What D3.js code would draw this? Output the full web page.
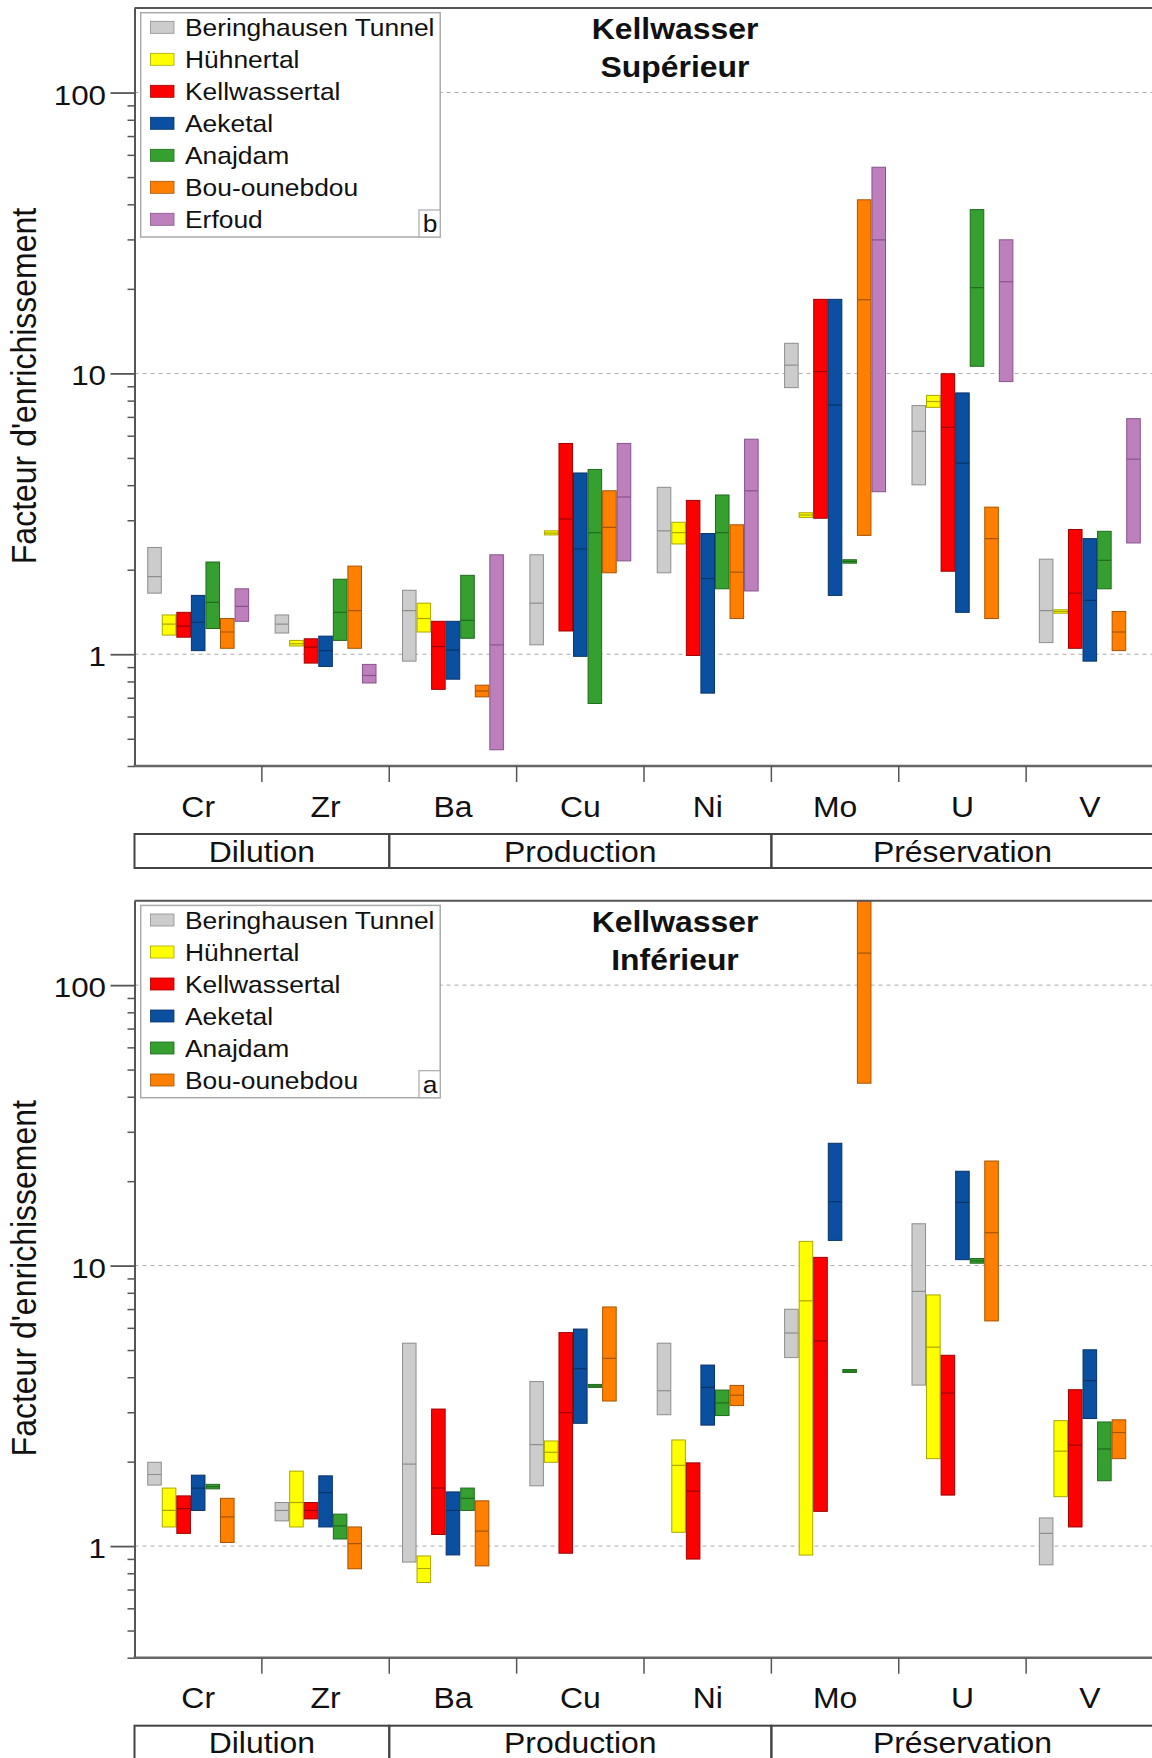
<!DOCTYPE html>
<html><head><meta charset="utf-8">
<script src="https://cdn.jsdelivr.net/npm/d3@7"></script>
<style>html,body{margin:0;padding:0;background:#fff;} svg{display:block;}</style>
</head><body>
<svg id="c" width="1152" height="1758"></svg>
<script>
// ---------- DATA ----------
const categories = ["Cr","Zr","Ba","Cu","Ni","Mo","U","V"];
const groupNames = ["Dilution","Production","Préservation"];
const groupFirst = ["Cr","Ba","Mo"];
const groupLast  = ["Zr","Ni","V"];
const seriesNames = ["Beringhausen Tunnel","Hühnertal","Kellwassertal","Aeketal","Anajdam","Bou-ounebdou","Erfoud"];
const majorTicks = [1,10,100];
const majorLabels = ["1","10","100"];
const minorTicks = [0.4,0.5,0.6,0.7,0.8,0.9,2,3,4,5,6,7,8,9,20,30,40,50,60,70,80,90];

// Kellwasser Supérieur : [min, median, max] per category
const supBeringhausen = [[1.65,1.89,2.40],[1.19,1.28,1.38],[0.945,1.43,1.69],[1.08,1.52,2.26],[1.95,2.75,3.93],[8.9,10.7,12.8],[4.01,6.22,7.68],[1.10,1.43,2.18]];
const supHuhnertal    = [[1.17,1.28,1.38],[1.07,1.09,1.12],[1.20,1.34,1.52],[2.66,2.70,2.75],[2.47,2.71,2.95],[3.07,3.13,3.19],[7.57,7.94,8.35],[1.40,1.42,1.44]];
const supKellwasser   = [[1.15,1.26,1.41],[0.93,1.06,1.135],[0.75,1.065,1.31],[1.21,3.03,5.63],[0.99,null,3.53],[3.05,10.15,18.35],[1.975,6.43,9.97],[1.05,1.65,2.78]];
const supAeketal      = [[1.03,1.30,1.62],[0.905,1.03,1.16],[0.815,1.035,1.31],[0.983,2.37,4.42],[0.727,1.86,2.69],[1.62,7.72,18.35],[1.41,4.79,8.52],[0.945,1.555,2.58]];
const supAnajdam      = [[1.235,1.53,2.13],[1.12,1.41,1.85],[1.14,1.32,1.91],[0.668,2.71,4.55],[1.71,2.71,3.69],[2.11,2.14,2.17],[10.6,20.2,38.3],[1.71,2.16,2.74]];
const supBou          = [[1.05,1.20,1.34],[1.05,1.43,2.06],[0.705,0.74,0.776],[1.95,2.83,3.82],[1.34,1.96,2.89],[2.65,18.3,41.5],[1.34,2.58,3.34],[1.03,1.20,1.42]];
const supErfoud       = [[1.31,1.48,1.71],[0.79,0.84,0.92],[0.457,1.08,2.26],[2.15,3.63,5.63],[1.68,3.82,5.83],[3.79,29.9,54.2],[9.35,21.2,29.9],[2.49,4.95,6.9]];

// Kellwasser Inférieur
const infBeringhausen = [[1.65,1.80,1.99],[1.23,1.34,1.43],[0.877,1.96,5.29],[1.64,2.30,3.86],[2.94,3.58,5.29],[4.70,5.75,6.99],[3.75,8.09,14.1],[0.857,1.11,1.26]];
const infHuhnertal    = [[1.17,1.34,1.61],[1.17,1.43,1.85],[0.742,0.832,0.922],[1.99,2.16,2.37],[1.12,1.94,2.39],[0.929,7.49,12.2],[2.05,5.12,7.86],[1.50,2.18,2.80]];
const infKellwasser   = [[1.11,1.36,1.51],[1.25,1.34,1.43],[1.10,1.61,3.08],[0.943,2.99,5.77],[0.899,1.57,1.98],[1.33,5.39,10.7],[1.52,3.51,4.79],[1.17,2.29,3.61]];
const infAeketal      = [[1.34,1.61,1.79],[1.17,1.55,1.78],[0.93,1.34,1.56],[2.74,4.29,5.94],[2.70,3.68,4.42],[12.3,16.9,27.3],[10.5,16.8,21.7],[2.85,3.89,5.01]];
const infAnajdam      = [[1.60,1.63,1.66],[1.06,1.18,1.30],[1.34,1.48,1.61],[3.68,3.72,3.77],[2.92,3.24,3.60],[4.16,4.21,4.26],[10.2,10.4,10.6],[1.71,2.22,2.77]];
const infBou          = [[1.03,1.27,1.48],[0.83,1.02,1.17],[0.85,1.13,1.45],[3.29,4.67,7.12],[3.17,3.45,3.74],[44.7,130,200],[6.35,13.1,23.6],[2.05,2.54,2.82]];

// ---------- STYLE ----------
const seriesFill   = ["#cccccc","#ffff00","#ff0000","#0b50a0","#35a02f","#ff8000","#bd80bd"];
const seriesStroke = ["#8e8e8e","#a8a800","#a00000","#06336a","#1f6a1c","#a85300","#85558a"];
const FONT = "'Liberation Sans', Arial, Helvetica, sans-serif";
const SX = 1.1; // horizontal stretch of the original typography

const svg = d3.select("#c");
svg.append("rect").attr("width",1152).attr("height",1758).attr("fill","#ffffff");
const defs = svg.append("defs");

const left = 134.5, right = 1153.5;
const x = d3.scaleBand().domain(categories).range([left, right]).padding(0);
const xs = d3.scaleBand().domain(seriesNames).range([0.1 * x.bandwidth(), 0.9 * x.bandwidth()]).padding(0);

function stretchedText(parent, tx, ty, txt, size, anchor, weight) {
  return parent.append("text")
    .attr("transform", `translate(${tx},${ty}) scale(${SX},1)`)
    .attr("text-anchor", anchor || "middle")
    .attr("font-family", FONT)
    .attr("font-size", size)
    .attr("font-weight", weight || "normal")
    .attr("fill", "#111")
    .text(txt);
}

function panel(idx, top, bottom, data, nSeries, letter, titleLines) {
  const g = svg.append("g");
  const y = d3.scaleLog().domain([0.4, 200]).range([bottom, top]).clamp(true);

  const clipId = "clip" + idx;
  defs.append("clipPath").attr("id", clipId).append("rect")
    .attr("x", left).attr("y", top).attr("width", right - left).attr("height", bottom - top);

  // grid lines
  g.append("g").selectAll("line").data(majorTicks).join("line")
    .attr("x1", left).attr("x2", right)
    .attr("y1", d => y(d)).attr("y2", d => y(d))
    .attr("stroke", "#aaaaaa").attr("stroke-width", 1).attr("stroke-dasharray", "4,4");

  // bars
  const barsG = g.append("g").attr("clip-path", `url(#${clipId})`);
  data.forEach((arr, si) => {
    const key = seriesNames[si];
    const items = arr.map((v, ci) => ({v, cat: categories[ci]})).filter(d => d.v);
    const sg = barsG.append("g");
    sg.selectAll("rect").data(items).join("rect")
      .attr("x", d => x(d.cat) + xs(key) + 0.5)
      .attr("width", xs.bandwidth() - 1)
      .attr("y", d => y(d.v[2]))
      .attr("height", d => Math.max(1.5, y(d.v[0]) - y(d.v[2])))
      .attr("fill", seriesFill[si])
      .attr("stroke", seriesStroke[si]).attr("stroke-width", 1);
    sg.selectAll("line").data(items.filter(d => d.v[1] != null)).join("line")
      .attr("x1", d => x(d.cat) + xs(key) + 0.5)
      .attr("x2", d => x(d.cat) + xs(key) + xs.bandwidth() - 0.5)
      .attr("y1", d => y(d.v[1])).attr("y2", d => y(d.v[1]))
      .attr("stroke", seriesStroke[si]).attr("stroke-width", 1.2);
  });

  // y axis (minor + major)
  const minorAxis = d3.axisLeft(y).tickValues(minorTicks).tickSize(7).tickFormat("");
  const gm = g.append("g").attr("transform", `translate(${left},0)`).call(minorAxis);
  gm.select(".domain").remove();
  gm.selectAll(".tick line").attr("stroke", "#555").attr("stroke-width", 1.5);
  const majorAxis = d3.axisLeft(y).tickValues(majorTicks).tickSize(24).tickFormat("").tickSizeOuter(0);
  const gM = g.append("g").attr("transform", `translate(${left},0)`).call(majorAxis);
  gM.select(".domain").attr("stroke", "#555").attr("stroke-width", 2);
  gM.selectAll(".tick line").attr("stroke", "#555").attr("stroke-width", 1.8);
  majorTicks.forEach((t, i) => stretchedText(g, 106, y(t) + 12, majorLabels[i], 28.5, "end"));

  // frame: top border + bottom axis
  g.append("line").attr("x1", left).attr("x2", right).attr("y1", top).attr("y2", top)
    .attr("stroke", "#555").attr("stroke-width", 2);
  g.append("line").attr("x1", right).attr("x2", right).attr("y1", top).attr("y2", bottom)
    .attr("stroke", "#555").attr("stroke-width", 2);
  g.append("line").attr("x1", left - 1).attr("x2", right).attr("y1", bottom).attr("y2", bottom)
    .attr("stroke", "#666").attr("stroke-width", 2.5);
  // category separators
  g.append("g").selectAll("line").data(categories.slice(1)).join("line")
    .attr("x1", d => x(d)).attr("x2", d => x(d))
    .attr("y1", bottom).attr("y2", bottom + 16)
    .attr("stroke", "#555").attr("stroke-width", 1.5);
  // category labels
  categories.forEach(c => stretchedText(g, x(c) + x.bandwidth() / 2, bottom + 50.5, c, 29, "middle"));
  // group boxes
  groupNames.forEach((gn, i) => {
    const x0 = x(groupFirst[i]), x1 = x(groupLast[i]) + x.bandwidth();
    g.append("rect").attr("x", x0).attr("y", bottom + 68).attr("width", x1 - x0).attr("height", 34)
      .attr("fill", "none").attr("stroke", "#444").attr("stroke-width", 2);
    stretchedText(g, (x0 + x1) / 2, bottom + 95.5, gn, 29, "middle");
  });

  // y axis title
  g.append("text")
    .attr("transform", `translate(35.5,${(top + bottom) / 2 - 1}) scale(${SX},1) rotate(-90)`)
    .attr("text-anchor", "middle").attr("font-family", FONT).attr("font-size", 32).attr("fill", "#111")
    .text("Facteur d'enrichissement");

  // title
  titleLines.forEach((t, i) => stretchedText(g, 675, top + 31 + i * 38.3, t, 29, "middle", "bold"));

  // legend
  const lg = g.append("g");
  const lx = 140.7, ly = top + 4.7, lw = 299.5, rowH = 32;
  const lh = 14.6 + (nSeries - 1) * rowH + 17.7;
  lg.append("rect").attr("x", lx).attr("y", ly).attr("width", lw).attr("height", lh)
    .attr("fill", "#ffffff").attr("stroke", "#aaaaaa").attr("stroke-width", 1.5);
  const names = seriesNames.slice(0, nSeries);
  names.forEach((n, i) => {
    const cy = top + 19.3 + i * rowH;
    lg.append("rect").attr("x", 150.5).attr("y", cy - 6).attr("width", 23.5).attr("height", 12)
      .attr("fill", seriesFill[i]).attr("stroke", seriesStroke[i]).attr("stroke-width", 0.8);
    stretchedText(lg, 185, cy + 8.6, n, 24, "start");
  });
  const bh = 27;
  lg.append("rect").attr("x", 419).attr("y", ly + lh - bh).attr("width", lx + lw - 419).attr("height", bh)
    .attr("fill", "#ffffff").attr("stroke", "#aaaaaa").attr("stroke-width", 1.2);
  stretchedText(lg, 430, ly + lh - 5, letter, 24, "middle");
}

panel(0, 8, 766,
  [supBeringhausen, supHuhnertal, supKellwasser, supAeketal, supAnajdam, supBou, supErfoud],
  7, "b", ["Kellwasser", "Supérieur"]);
panel(1, 900.7, 1657.7,
  [infBeringhausen, infHuhnertal, infKellwasser, infAeketal, infAnajdam, infBou],
  6, "a", ["Kellwasser", "Inférieur"]);
</script>
</body></html>
